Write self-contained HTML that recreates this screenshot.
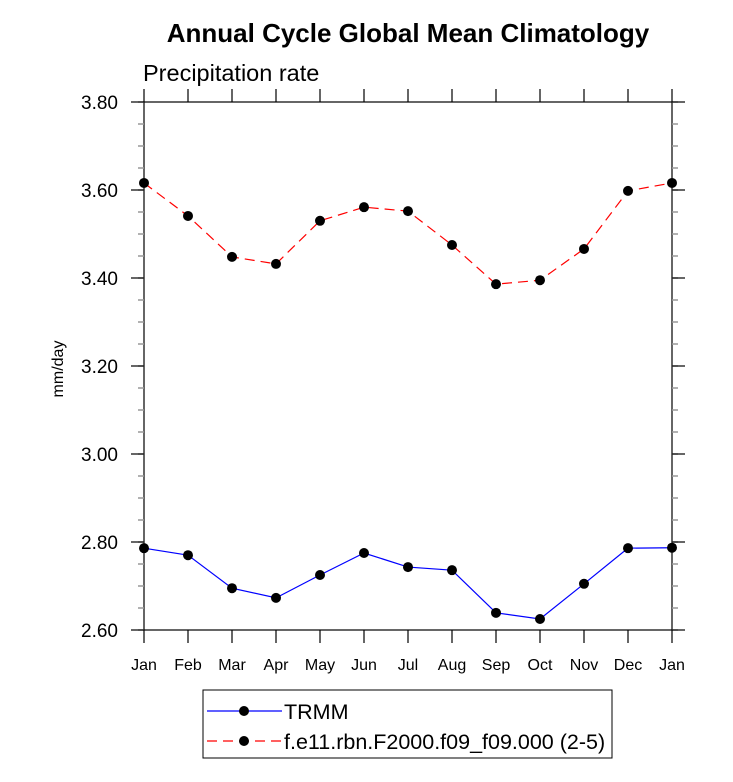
<!DOCTYPE html>
<html><head><meta charset="utf-8"><style>
body{margin:0;background:#fff;}
svg{display:block;font-family:"Liberation Sans",sans-serif;}
</style></head><body>
<svg id="c" width="733" height="782">
<text x="408" y="42" text-anchor="middle" font-size="26" font-weight="bold">Annual Cycle Global Mean Climatology</text>
<text x="143" y="81" font-size="23.5">Precipitation rate</text>
<text transform="translate(63,369) rotate(-90)" text-anchor="middle" font-size="16">mm/day</text>
<g id="axes"></g>
<g id="series"></g>
<rect x="203" y="690" width="409" height="68" fill="none" stroke="#000" stroke-width="1"/>
<g>
<line x1="207" y1="711" x2="282" y2="711" stroke="#0000ff" stroke-width="1.2"/>
<circle cx="244" cy="711" r="5" fill="#000"/>
<text x="284" y="719" font-size="21.5">TRMM</text></g>
<g>
<line x1="207" y1="741" x2="282" y2="741" stroke="#ff0000" stroke-width="1.2" stroke-dasharray="10,6"/>
<circle cx="244" cy="741" r="5" fill="#000"/>
<text x="284" y="749" font-size="21.5">f.e11.rbn.F2000.f09_f09.000 (2-5)</text></g>
</svg>
<script>
const months=["Jan","Feb","Mar","Apr","May","Jun","Jul","Aug","Sep","Oct","Nov","Dec","Jan"];
const trmm=[2.786,2.770,2.695,2.673,2.725,2.775,2.743,2.736,2.639,2.625,2.705,2.786,2.787];
const model=[3.616,3.541,3.448,3.432,3.530,3.561,3.552,3.475,3.386,3.395,3.466,3.598,3.616];
const yTicks=[2.6,2.8,3.0,3.2,3.4,3.6,3.8];
const L=144,R=672,T=102,B=630,ymin=2.6,ymax=3.8;
const NS="http://www.w3.org/2000/svg";
function X(i){return L+(R-L)*i/(months.length-1);}
function Y(v){return B-(v-ymin)/(ymax-ymin)*(B-T);}
function mk(p,tag,at){const e=document.createElementNS(NS,tag);for(const k in at)e.setAttribute(k,at[k]);p.appendChild(e);return e;}
const ax=document.getElementById('axes');
const frame=mk(ax,'rect',{x:L,y:T,width:R-L,height:B-T,fill:'none',stroke:'#000','stroke-width':1.2});


for(let v=ymin;v<=ymax+1e-9;v+=0.05){
  const y=Y(v);
  mk(ax,'line',{x1:L,y1:y,x2:L-6,y2:y,stroke:'#999','stroke-width':1.5});
  mk(ax,'line',{x1:R,y1:y,x2:R+6,y2:y,stroke:'#999','stroke-width':1.5});
}
yTicks.forEach(v=>{
  const y=Y(v);
  mk(ax,'line',{x1:L-13,y1:y,x2:L,y2:y,stroke:'#000','stroke-width':1.2});
  mk(ax,'line',{x1:R,y1:y,x2:R+13,y2:y,stroke:'#000','stroke-width':1.2});
  const t=mk(ax,'text',{x:L-26,y:y+7,'text-anchor':'end','font-size':19});
  t.textContent=v.toFixed(2);
  
  
});
months.forEach((m,i)=>{
  const x=X(i);
  mk(ax,'line',{x1:x,y1:B,x2:x,y2:B+13,stroke:'#000','stroke-width':1.2});
  mk(ax,'line',{x1:x,y1:T,x2:x,y2:T-13,stroke:'#000','stroke-width':1.2});
  const t=mk(ax,'text',{x:x,y:B+40,'text-anchor':'middle','font-size':16});
  t.textContent=m;
  
  
});
const sg=document.getElementById('series');
function draw(vals,color,dash,name){
  const g=mk(sg,'g',{});
  
  
  const pts=vals.map((v,i)=>X(i)+','+Y(v)).join(' ');
  const pl=mk(g,'polyline',{points:pts,fill:'none',stroke:color,'stroke-width':1.2});
  if(dash)pl.setAttribute('stroke-dasharray',dash);
  vals.forEach((v,i)=>{
    const c=mk(g,'circle',{cx:X(i),cy:Y(v),r:5,fill:'#000'});
    
    
  });
}
draw(trmm,'#0000ff',null,'trmm-series');
draw(model,'#ff0000','10,6','model-series');
</script>
</body></html>
